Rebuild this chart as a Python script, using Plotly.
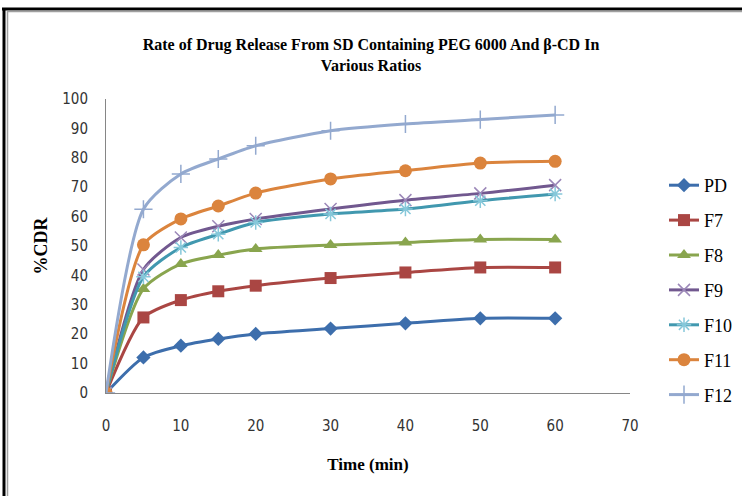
import plotly.graph_objects as go

time = [0, 5, 10, 15, 20, 30, 40, 50, 60]
names = ["PD", "F7", "F8", "F9", "F10", "F11", "F12"]
PD = [0, 12.1, 16.1, 18.4, 20.1, 21.9, 23.7, 25.4, 25.4]
F7 = [0, 25.7, 31.6, 34.6, 36.5, 39.1, 41.0, 42.7, 42.7]
F8 = [0, 35.4, 43.9, 46.9, 49.0, 50.3, 51.2, 52.2, 52.2]
F9 = [0, 42.0, 52.9, 56.7, 59.2, 62.6, 65.6, 67.9, 70.7]
F10 = [0, 39.5, 49.5, 54.0, 58.0, 60.9, 62.6, 65.4, 67.7]
F11 = [0, 50.4, 59.2, 63.6, 68.0, 72.8, 75.6, 78.2, 78.8]
F12 = [0, 62.5, 74.5, 79.6, 84.1, 89.2, 91.5, 93.0, 94.6]
series = [PD, F7, F8, F9, F10, F11, F12]

line_colors = ["#3d6eac", "#aa4643", "#89a54e", "#71588f", "#4198af", "#db843d", "#93a9cf"]
marker_colors = ["#3d6eac", "#aa4643", "#89a54e", "#9b87b8", "#86c8da", "#db843d", "#93a9cf"]
symbols = ["diamond", "square", "triangle-up", "x-thin-open", "asterisk-open", "circle", "cross-thin-open"]
sizes = [11, 12, 12, 12, 12, 13, 13]

fig = go.Figure()
for i, (nm, ys) in enumerate(zip(names, series)):
    open_sym = symbols[i].endswith("open")
    fig.add_trace(go.Scatter(
        x=time, y=ys, name=nm, mode="lines+markers",
        line=dict(color=line_colors[i], width=3, shape="spline", smoothing=0.7),
        marker=dict(symbol=symbols[i], size=sizes[i], color=marker_colors[i],
                    line=dict(color=marker_colors[i], width=1.5 if open_sym else 0)),
        legendgroup=nm,
    ))

L, R, T, B = 106, 112, 99, 103
W, H = 742, 496
pw, ph = W - L - R, H - T - B

def px_x(px):
    return (px - L) / pw

def px_y(py):
    return 1 - (py - T) / ph

fig.update_layout(
    width=W, height=H,
    margin=dict(l=L, r=R, t=T, b=B, autoexpand=False),
    paper_bgcolor="white", plot_bgcolor="white",
    title=dict(
        text="<b>Rate of Drug Release From SD Containing PEG 6000 And β-CD In<br>Various Ratios</b>",
        x=0.5, xanchor="center", y=1 - 50 / H, yanchor="middle",
        font=dict(family="Liberation Serif", size=16, color="black"),
    ),
    xaxis=dict(
        range=[0, 70], tickvals=[0, 10, 20, 30, 40, 50, 60, 70],
        showgrid=False, zeroline=False, showline=True, linecolor="#868686", linewidth=1,
        ticks="", ticklabelstandoff=19,
        tickfont=dict(family="Liberation Sans Narrow, DejaVu Sans Condensed, Arial Narrow", size=15, color="#333333"),
        title=dict(text="<b>Time (min)</b>", standoff=24,
                   font=dict(family="Liberation Serif", size=17, color="black")),
    ),
    yaxis=dict(
        range=[0, 100], tickvals=list(range(0, 101, 10)),
        showgrid=False, zeroline=False, showline=True, linecolor="#868686", linewidth=1,
        ticks="", ticklabelstandoff=14,
        tickfont=dict(family="Liberation Sans Narrow, DejaVu Sans Condensed, Arial Narrow", size=15, color="#333333"),
        title=dict(text="<b>%CDR</b>", standoff=9,
                   font=dict(family="Liberation Serif", size=18, color="black")),
    ),
    legend=dict(
        x=px_x(664), xanchor="left", y=px_y(167), yanchor="top",
        font=dict(family="Liberation Serif", size=18, color="black"),
        tracegroupgap=8.5, itemwidth=30, bgcolor="rgba(0,0,0,0)",
    ),
    showlegend=True,
    shapes=[
        dict(type="line", xref="paper", yref="paper", x0=px_x(2), x1=px_x(742), y0=px_y(9), y1=px_y(9),
             line=dict(color="black", width=3)),
        dict(type="line", xref="paper", yref="paper", x0=px_x(8), x1=px_x(742), y0=px_y(11.5), y1=px_y(11.5),
             line=dict(color="#a0a0a0", width=1.5)),
        dict(type="line", xref="paper", yref="paper", x0=px_x(4), x1=px_x(4), y0=px_y(8), y1=px_y(496),
             line=dict(color="black", width=3)),
        dict(type="line", xref="paper", yref="paper", x0=px_x(7.5), x1=px_x(7.5), y0=px_y(11), y1=px_y(496),
             line=dict(color="#a0a0a0", width=1.5)),
    ],
)

fig.write_html("out.html")
